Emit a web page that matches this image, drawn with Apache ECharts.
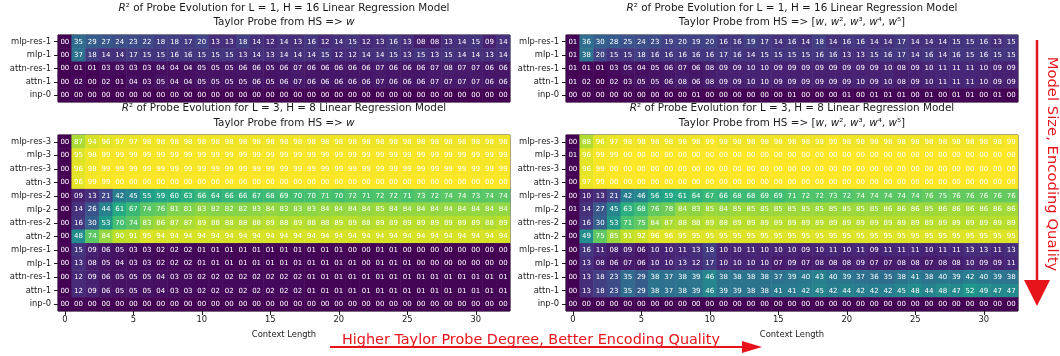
<!DOCTYPE html>
<html>
<head>
<meta charset="utf-8">
<script src="https://cdn.jsdelivr.net/npm/echarts@6/dist/echarts.min.js"></script>
<style>
  html, body { margin: 0; padding: 0; background: #ffffff; }
  #chart { width: 1060px; height: 356px; }
</style>
</head>
<body>
<div id="chart"></div>
<script>
// Context length (columns of every heatmap)
const contextLengths = ['0','1','2','3','4','5','6','7','8','9','10','11','12','13','14','15','16',
  '17','18','19','20','21','22','23','24','25','26','27','28','29','30','31','32'];

// Probed locations (rows), top to bottom
const rowsL1 = ['mlp-res-1', 'mlp-1', 'attn-res-1', 'attn-1', 'inp-0'];
const rowsL3 = ['mlp-res-3', 'mlp-3', 'attn-res-3', 'attn-3', 'mlp-res-2', 'mlp-2', 'attn-res-2',
  'attn-2', 'mlp-res-1', 'mlp-1', 'attn-res-1', 'attn-1', 'inp-0'];

// R^2 x 100, L = 1, H = 16, probe target w
const l1Linear = [
  [0,35,29,27,24,23,22,18,18,17,20,13,13,18,14,12,14,13,16,12,14,15,12,13,16,13,8,8,13,14,15,9,14],
  [0,37,18,14,14,17,15,15,16,16,15,15,15,13,14,13,14,14,14,15,12,12,14,14,15,13,15,13,15,14,14,13,14],
  [0,1,1,3,3,3,3,4,4,4,5,5,5,6,6,5,6,7,6,6,6,6,6,7,6,6,6,7,8,7,7,6,6],
  [0,2,0,2,1,4,3,5,4,4,5,5,5,5,6,5,6,7,6,6,6,6,6,7,6,6,6,7,7,7,7,6,6],
  [0,0,0,0,0,0,0,0,0,0,0,0,0,0,0,0,0,0,0,0,0,0,0,0,0,0,0,0,0,0,0,0,0]
];

// R^2 x 100, L = 1, H = 16, probe target [w, w^2, w^3, w^4, w^5]
const l1Taylor = [
  [1,36,30,28,25,24,23,19,20,19,20,16,16,19,17,14,16,14,18,14,16,16,14,14,17,14,14,14,15,15,16,13,15],
  [1,38,20,15,15,18,16,16,16,16,16,17,16,14,15,15,15,15,16,16,13,13,15,16,17,14,16,14,16,15,16,15,15],
  [1,1,1,3,5,4,5,6,7,6,8,9,9,10,10,9,9,9,9,9,9,9,9,10,8,9,10,11,11,11,10,9,9],
  [1,2,0,2,3,5,5,6,8,6,8,9,9,10,10,9,9,9,9,9,9,10,9,10,8,9,10,11,11,11,10,9,9],
  [0,0,0,0,0,0,0,0,0,1,0,0,0,0,0,0,1,0,0,0,1,0,1,1,1,0,1,0,1,1,0,1,0]
];

// R^2 x 100, L = 3, H = 8, probe target w
const l3Linear = [
  [0,87,94,96,97,97,98,98,98,98,98,98,98,98,98,98,98,98,98,98,98,98,98,98,98,98,98,98,98,98,98,98,98],
  [0,95,98,99,99,99,99,99,99,99,99,99,99,99,99,99,99,99,99,99,99,99,99,99,99,99,99,99,99,99,99,99,99],
  [0,96,98,99,99,99,99,99,99,99,99,99,99,99,99,99,99,99,99,99,99,99,99,99,99,99,99,99,99,99,99,99,99],
  [0,96,99,99,100,100,100,100,100,100,100,100,100,100,100,100,100,100,100,100,100,100,100,100,100,100,100,100,100,100,100,100,100],
  [0,9,13,21,42,45,55,59,60,63,66,64,66,66,67,68,69,70,70,71,70,72,71,72,72,71,73,72,74,74,73,74,74],
  [0,14,26,44,61,67,74,76,81,81,83,82,82,82,83,84,83,83,83,84,84,84,84,85,84,84,84,84,84,84,84,84,84],
  [0,16,30,53,70,74,83,86,87,87,89,88,88,88,88,89,88,89,88,88,89,89,88,89,89,89,89,89,89,89,89,88,89],
  [0,48,74,84,90,91,95,94,94,94,94,94,94,94,94,94,94,94,94,94,94,94,94,94,94,94,94,94,94,94,94,94,94],
  [0,15,9,6,5,3,3,2,2,2,1,1,1,1,1,1,1,1,1,1,1,0,0,1,1,0,0,0,0,0,0,0,0],
  [0,13,8,5,4,3,3,2,2,2,1,1,1,1,1,1,1,1,1,1,1,1,0,1,1,1,0,0,0,0,0,0,0],
  [0,12,9,6,5,5,5,4,3,3,2,2,2,2,2,2,2,2,1,1,1,1,1,1,1,1,1,1,1,1,1,1,1],
  [0,12,9,6,5,5,5,4,3,3,2,2,2,2,2,2,2,2,1,1,1,1,1,1,1,1,1,1,1,1,1,1,1],
  [0,0,0,0,0,0,0,0,0,0,0,0,0,0,0,0,0,0,0,0,0,0,0,0,0,0,0,0,0,0,0,0,0]
];

// R^2 x 100, L = 3, H = 8, probe target [w, w^2, w^3, w^4, w^5]
const l3Taylor = [
  [0,88,96,97,98,98,98,98,98,98,99,98,98,98,98,98,98,98,98,99,98,98,98,98,98,98,98,98,98,98,98,98,99],
  [1,96,99,99,100,100,100,100,100,100,100,100,100,100,100,100,100,100,100,100,100,100,100,100,100,100,100,100,100,100,100,100,100],
  [0,96,99,100,100,100,100,100,100,100,100,100,100,100,100,100,100,100,100,100,100,100,100,100,100,100,100,100,100,100,100,100,100],
  [0,97,99,100,100,100,100,100,100,100,100,100,100,100,100,100,100,100,100,100,100,100,100,100,100,100,100,100,100,100,100,100,100],
  [0,10,13,21,42,46,56,59,61,64,67,66,68,68,69,69,71,72,72,73,72,74,74,74,74,74,76,75,76,76,76,76,76],
  [1,14,27,45,63,68,76,78,84,83,85,84,85,85,85,85,85,85,85,85,85,85,85,86,86,86,85,86,86,86,86,86,86],
  [0,16,30,53,71,75,84,87,88,88,89,88,89,89,89,89,89,89,89,89,89,89,89,89,89,89,89,89,89,89,89,89,89],
  [0,49,75,85,91,92,96,96,95,95,95,95,95,95,95,95,95,95,95,95,95,95,95,95,95,95,95,95,95,95,95,95,95],
  [0,16,11,8,9,6,10,10,11,13,18,10,10,11,10,10,10,9,10,11,10,11,9,11,11,11,10,11,11,13,13,11,13],
  [0,13,8,6,7,6,10,10,13,12,17,10,10,10,10,7,9,7,8,8,8,9,7,7,8,8,7,8,8,10,9,9,11],
  [0,13,18,23,35,29,38,37,38,39,46,38,38,38,38,37,39,40,43,40,39,37,36,35,38,41,38,40,39,42,40,39,38],
  [0,13,18,23,35,29,38,37,38,39,46,39,39,38,38,41,41,42,45,42,44,42,42,42,45,48,44,48,47,52,49,47,47],
  [0,0,0,0,0,0,0,0,0,0,0,0,0,0,0,0,0,0,0,0,0,0,0,0,0,0,0,0,0,0,0,0,0]
];

const FONT = 'DejaVu Sans';
const INK = '#1a1a1a';
const RED = '#e8141c';
const viridis = ['#440154', '#482475', '#414487', '#355f8d', '#2a788e', '#21918c',
  '#22a884', '#44bf70', '#7ad151', '#bddf26', '#fde725'];

// panel geometry
const panels = [
  { rows: rowsL1, values: l1Linear, left: 58,  top: 35,  height: 67,  xAxis: false },
  { rows: rowsL1, values: l1Taylor, left: 566, top: 35,  height: 67,  xAxis: false },
  { rows: rowsL3, values: l3Linear, left: 58,  top: 135, height: 176, xAxis: true },
  { rows: rowsL3, values: l3Taylor, left: 566, top: 135, height: 176, xAxis: true }
];
const PANEL_W = 452;

function toCells(values) {
  const out = [];
  values.forEach((row, r) => row.forEach((v, c) => out.push([c, r, v])));
  return out;
}

const grids = [], xAxes = [], yAxes = [], series = [];
panels.forEach((p, i) => {
  grids.push({
    left: p.left, top: p.top, width: PANEL_W, height: p.height,
    show: true, borderColor: '#222', borderWidth: 1, backgroundColor: 'transparent'
  });
  xAxes.push({
    type: 'category', gridIndex: i, data: contextLengths, show: p.xAxis,
    position: 'bottom',
    axisLine: { show: false },
    axisTick: { show: true, alignWithLabel: true, interval: 4, length: 4,
      lineStyle: { color: INK, width: 1 } },
    axisLabel: { interval: 4, fontFamily: FONT, fontSize: 8.4, color: INK, margin: 5 },
    splitLine: { show: false },
    name: p.xAxis ? 'Context Length' : '',
    nameLocation: 'middle', nameGap: 20,
    nameTextStyle: { fontFamily: FONT, fontSize: 8.4, color: INK }
  });
  yAxes.push({
    type: 'category', gridIndex: i, data: p.rows, inverse: true,
    axisLine: { show: false },
    axisTick: { show: true, alignWithLabel: true, length: 4,
      lineStyle: { color: INK, width: 1 } },
    axisLabel: { fontFamily: FONT, fontSize: 8.4, color: INK, margin: 7 },
    splitLine: { show: false }
  });
  series.push({
    type: 'heatmap', xAxisIndex: i, yAxisIndex: i, data: toCells(p.values),
    itemStyle: { borderWidth: 0 },
    emphasis: { disabled: true },
    label: {
      show: true, color: '#ffffff', fontFamily: FONT, fontSize: 7,
      formatter: (q) => String(q.value[2] % 100).padStart(2, '0')
    }
  });
});

const titleRich = {
  it: { fontFamily: FONT, fontSize: 10.4, fontStyle: 'italic', color: INK },
  n:  { fontFamily: FONT, fontSize: 10.4, color: INK }
};
function titleText(x, y, text) {
  return {
    type: 'text', x: x, y: y, silent: true,
    style: { text: text, rich: titleRich, align: 'center', verticalAlign: 'middle',
      fontFamily: FONT, fontSize: 10.4, fill: INK }
  };
}
const taylorW = '{n|Taylor Probe from HS => }{it|w}';
const taylorPoly = '{n|Taylor Probe from HS => [}{it|w}{n|, }{it|w}{n|², }{it|w}{n|³, }{it|w}{n|⁴, }{it|w}{n|⁵]}';

const graphics = [
  titleText(284, 8, '{it|R}{n|² of Probe Evolution for L = 1, H = 16 Linear Regression Model}'),
  titleText(284, 22, taylorW),
  titleText(792, 8, '{it|R}{n|² of Probe Evolution for L = 1, H = 16 Linear Regression Model}'),
  titleText(792, 22, taylorPoly),
  titleText(284, 108, '{it|R}{n|² of Probe Evolution for L = 3, H = 8 Linear Regression Model}'),
  titleText(284, 123, taylorW),
  titleText(792, 108, '{it|R}{n|² of Probe Evolution for L = 3, H = 8 Linear Regression Model}'),
  titleText(792, 123, taylorPoly),
  // vertical annotation arrow
  { type: 'line', silent: true, shape: { x1: 1037, y1: 40, x2: 1037, y2: 283 },
    style: { stroke: RED, lineWidth: 2.5 } },
  { type: 'polygon', silent: true, shape: { points: [[1024, 280], [1050, 280], [1037, 306]] },
    style: { fill: RED } },
  { type: 'text', silent: true, x: 1052, y: 164, rotation: -Math.PI / 2,
    style: { text: 'Model Size, Encoding Quality', fontFamily: FONT, fontSize: 14.8, fill: RED,
      align: 'center', verticalAlign: 'middle' } },
  // horizontal annotation arrow
  { type: 'line', silent: true, shape: { x1: 330, y1: 347, x2: 745, y2: 347 },
    style: { stroke: RED, lineWidth: 2 } },
  { type: 'polygon', silent: true, shape: { points: [[742, 341], [742, 353], [762, 347]] },
    style: { fill: RED } },
  { type: 'text', silent: true, x: 531, y: 340,
    style: { text: 'Higher Taylor Probe Degree, Better Encoding Quality', fontFamily: FONT,
      fontSize: 14.4, fill: RED, align: 'center', verticalAlign: 'middle' } }
];

const chart = echarts.init(document.getElementById('chart'), null, { renderer: 'canvas' });
chart.setOption({
  animation: false,
  backgroundColor: '#ffffff',
  grid: grids,
  xAxis: xAxes,
  yAxis: yAxes,
  visualMap: {
    show: false, type: 'continuous', min: 0, max: 100, calculable: false,
    seriesIndex: [0, 1, 2, 3],
    inRange: { color: viridis }
  },
  series: series,
  graphic: graphics
});
</script>
</body>
</html>
